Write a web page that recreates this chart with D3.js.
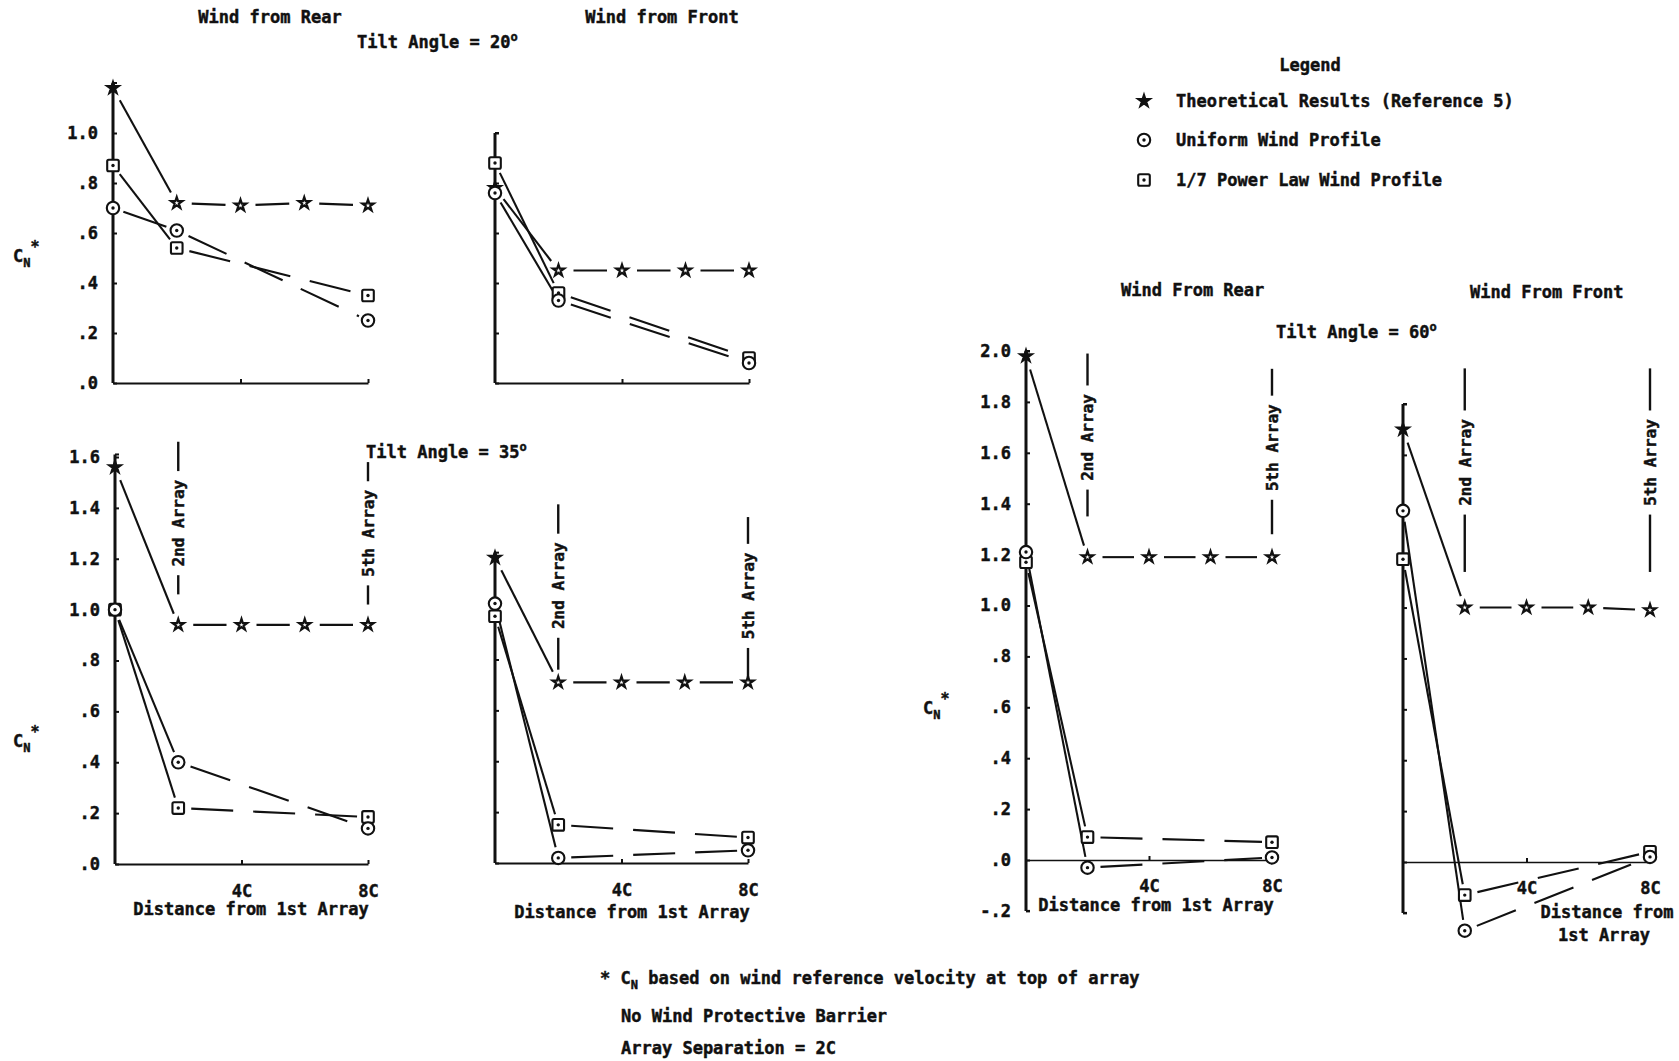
<!DOCTYPE html>
<html><head><meta charset="utf-8">
<script src="https://cdn.jsdelivr.net/npm/d3@7"></script>
<style>
html,body{margin:0;padding:0;background:#fff;}
svg{display:block;}
text{font-family:'DejaVu Sans Mono',monospace;font-weight:bold;fill:#111;stroke:#111;stroke-width:0.45px;}
</style></head>
<body>
<svg id="chart" width="1679" height="1061"></svg>
<script>
// ---------- DATA ----------
const theoryX = [0, 2, 4, 6, 8];      // distance from 1st array (in C)
const measuredX = [0, 2, 8];

const theo20Rear  = [1.18, 0.72, 0.71, 0.72, 0.71];
const unif20Rear  = [0.70, 0.61, 0.25];
const power20Rear = [0.87, 0.54, 0.35];

const theo20Front  = [0.78, 0.45, 0.45, 0.45, 0.45];
const unif20Front  = [0.76, 0.33, 0.08];
const power20Front = [0.88, 0.36, 0.10];

const theo35Rear  = [1.56, 0.94, 0.94, 0.94, 0.94];
const unif35Rear  = [1.00, 0.40, 0.14];
const power35Rear = [1.00, 0.22, 0.185];

const theo35Front  = [1.20, 0.71, 0.71, 0.71, 0.71];
const unif35Front  = [1.02, 0.02, 0.05];
const power35Front = [0.97, 0.15, 0.10];

const theo60Rear  = [1.98, 1.19, 1.19, 1.19, 1.19];
const unif60Rear  = [1.21, -0.03, 0.01];
const power60Rear = [1.17, 0.09, 0.07];

const theo60Front  = [1.70, 1.00, 1.00, 1.00, 0.99];
const unif60Front  = [1.38, -0.27, 0.02];
const power60Front = [1.19, -0.13, 0.04];

const ticks20  = [0, 0.2, 0.4, 0.6, 0.8, 1.0];
const ticks35  = [0, 0.2, 0.4, 0.6, 0.8, 1.0, 1.2, 1.4, 1.6];
const ticks35f = [0, 0.2, 0.4, 0.6, 0.8, 1.0, 1.2];
const ticks60  = [-0.2, 0, 0.2, 0.4, 0.6, 0.8, 1.0, 1.2, 1.4, 1.6, 1.8, 2.0];
const ticks60f = [-0.2, 0, 0.2, 0.4, 0.6, 0.8, 1.0, 1.2, 1.4, 1.6, 1.8];
const xTickVals = [4, 8];
const xTickLabels = ["4C", "8C"];

const legendLabels = ["Theoretical Results (Reference 5)", "Uniform Wind Profile", "1/7 Power Law Wind Profile"];
const notes = ["based on wind reference velocity at top of array", "No Wind Protective Barrier", "Array Separation = 2C"];

// ---------- LAYOUT ----------
const panels = [
  {x:[113,368], y:[383,133], dom:[0,1], axis:[0,1.2], ticks:ticks20, labels:true, xlab:false, xAxisAt0:false,
   theo:theo20Rear, unif:unif20Rear, pow:power20Rear, ann:null},
  {x:[495,749], y:[383,133], dom:[0,1], axis:[0,1.0], ticks:ticks20, labels:false, xlab:false, xAxisAt0:false,
   theo:theo20Front, unif:unif20Front, pow:power20Front, ann:null},
  {x:[115,368], y:[864,457], dom:[0,1.6], axis:[0,1.61], ticks:ticks35, labels:true, xlab:true, xAxisAt0:false,
   theo:theo35Rear, unif:unif35Rear, pow:power35Rear,
   ann:[[2,1.66,1.34,1.06,"2nd Array"],[8,1.58,1.30,1.02,"5th Array"]]},
  {x:[495,748], y:[863,456], dom:[0,1.6], axis:[0,1.22], ticks:ticks35f, labels:false, xlab:true, xAxisAt0:false,
   theo:theo35Front, unif:unif35Front, pow:power35Front,
   ann:[[2,1.41,1.09,0.76,"2nd Array"],[8,1.36,1.05,0.73,"5th Array"]]},
  {x:[1026,1272], y:[860,351], dom:[0,2], axis:[-0.2,2.0], ticks:ticks60, labels:true, xlab:true, xAxisAt0:true,
   theo:theo60Rear, unif:unif60Rear, pow:power60Rear,
   ann:[[2,1.99,1.66,1.35,"2nd Array"],[8,1.93,1.62,1.28,"5th Array"]]},
  {x:[1403,1650], y:[862,404], dom:[0,1.8], axis:[-0.2,1.8], ticks:ticks60f, labels:false, xlab:true, xAxisAt0:true,
   theo:theo60Front, unif:unif60Front, pow:power60Front,
   ann:[[2,1.94,1.57,1.14,"2nd Array"],[8,1.94,1.57,1.14,"5th Array"]]}
];

const svg = d3.select("#chart");
const FS = 17;

function fmt(v){
  if (Math.abs(v) < 1e-9) return ".0";
  if (v < 0) return "-." + Math.round(Math.abs(v)*10);
  if (v >= 1) return v.toFixed(1);
  return "." + Math.round(v*10);
}

function shorten(p, q, a, b){
  const dx = q[0]-p[0], dy = q[1]-p[1], L = Math.hypot(dx,dy);
  const ux = dx/L, uy = dy/L;
  return [[p[0]+ux*a, p[1]+uy*a],[q[0]-ux*b, q[1]-uy*b]];
}

function marker(g, type, cx, cy, filled){
  if (type === "star"){
    g.append("path").attr("d", d3.symbol(d3.symbolStar, 40)())
      .attr("transform", `translate(${cx},${cy})`)
      .attr("fill", filled ? "#111" : "#fff").attr("stroke","#111").attr("stroke-width",2.2);
  } else if (type === "circle"){
    g.append("circle").attr("cx",cx).attr("cy",cy).attr("r",6.2)
      .attr("fill","#fff").attr("stroke","#111").attr("stroke-width",2.1);
    g.append("circle").attr("cx",cx).attr("cy",cy).attr("r",1.7).attr("fill","#111");
  } else {
    g.append("rect").attr("x",cx-5.8).attr("y",cy-5.8).attr("width",11.6).attr("height",11.6).attr("rx",1.5)
      .attr("fill","#fff").attr("stroke","#111").attr("stroke-width",2.1);
    g.append("circle").attr("cx",cx).attr("cy",cy).attr("r",1.7).attr("fill","#111");
  }
}

panels.forEach(p => {
  const g = svg.append("g");
  const x = d3.scaleLinear().domain([0,8]).range(p.x);
  const y = d3.scaleLinear().domain(p.dom).range(p.y);

  // x axis line at 0
  const xa = g.append("g").attr("transform", `translate(0,${y(0)})`)
    .call(d3.axisBottom(x).tickValues(xTickVals).tickSizeInner(-4).tickSizeOuter(0).tickFormat(p.xlab ? (d,i)=>xTickLabels[i] : ""));
  xa.select(".domain").attr("stroke","#111").attr("stroke-width", p.xAxisAt0 ? 1.6 : 2.2);
  xa.selectAll(".tick line").attr("stroke","#111").attr("stroke-width",2);
  xa.selectAll(".tick text").attr("font-size",FS).attr("font-family","'DejaVu Sans Mono',monospace")
    .attr("font-weight","bold").attr("fill","#111").attr("y", p.xAxisAt0 ? 20 : 21).attr("dy","0.71em");

  // y axis
  const ya = g.append("g").attr("transform", `translate(${p.x[0]},0)`)
    .call(d3.axisLeft(y).tickValues(p.ticks).tickSizeInner(-4).tickSizeOuter(0).tickPadding(15)
      .tickFormat(p.labels ? fmt : ""));
  ya.select(".domain").attr("d", `M0,${y(p.axis[0])}V${y(p.axis[1])}`).attr("stroke","#111").attr("stroke-width",3);
  ya.selectAll(".tick line").attr("stroke","#111").attr("stroke-width",2);
  ya.selectAll(".tick text").attr("font-size",FS).attr("font-family","'DejaVu Sans Mono',monospace")
    .attr("font-weight","bold").attr("fill","#111");
  g.append("line").attr("x1",p.x[0]).attr("x2",p.x[0]+4).attr("y1",y(p.axis[1])).attr("y2",y(p.axis[1]))
    .attr("stroke","#111").attr("stroke-width",2);
  if (p.xAxisAt0) g.append("line").attr("x1",p.x[0]).attr("x2",p.x[0]+4).attr("y1",y(p.axis[0])).attr("y2",y(p.axis[0]))
    .attr("stroke","#111").attr("stroke-width",2);

  // annotations (2nd Array / 5th Array)
  if (p.ann) p.ann.forEach(a => {
    const ax = x(a[0]), yt = y(a[1]), yc = y(a[2]), yb = y(a[3]);
    const half = a[4].length * FS * 0.602 / 2 + 6;
    g.append("line").attr("x1",ax).attr("x2",ax).attr("y1",yt).attr("y2",yc-half).attr("stroke","#111").attr("stroke-width",2.4);
    g.append("line").attr("x1",ax).attr("x2",ax).attr("y1",yc+half).attr("y2",yb).attr("stroke","#111").attr("stroke-width",2.4);
    g.append("text").attr("transform",`translate(${ax},${yc}) rotate(-90)`).attr("text-anchor","middle")
      .attr("dy","0.36em").attr("font-size",FS-1).text(a[4]);
  });

  // lines
  const lineG = g.append("g").attr("stroke","#111").attr("stroke-width",2.1).attr("fill","none");
  const tp = theoryX.map((d,i)=>[x(d), y(p.theo[i])]);
  for (let i=0;i<tp.length-1;i++){
    const s = shorten(tp[i], tp[i+1], i===0?14:15, i===0?12:15);
    lineG.append("line").attr("x1",s[0][0]).attr("y1",s[0][1]).attr("x2",s[1][0]).attr("y2",s[1][1]);
  }
  [p.unif, p.pow].forEach(arr => {
    const pts = measuredX.map((d,i)=>[x(d), y(arr[i])]);
    const s0 = shorten(pts[0], pts[1], 11, 11);
    lineG.append("line").attr("x1",s0[0][0]).attr("y1",s0[0][1]).attr("x2",s0[1][0]).attr("y2",s0[1][1]);
    const s1 = shorten(pts[1], pts[2], 13, 10);
    lineG.append("line").attr("x1",s1[0][0]).attr("y1",s1[0][1]).attr("x2",s1[1][0]).attr("y2",s1[1][1])
      .attr("stroke-dasharray","42,20");
  });

  // markers
  theoryX.forEach((d,i)=>marker(g,"star",x(d),y(p.theo[i]), i===0));
  measuredX.forEach((d,i)=>marker(g,"square",x(d),y(p.pow[i])));
  measuredX.forEach((d,i)=>marker(g,"circle",x(d),y(p.unif[i])));
});

// ---------- TEXTS ----------
function txt(xp, yp, s, anchor){
  return svg.append("text").attr("x",xp).attr("y",yp).attr("font-size",FS).attr("text-anchor",anchor||"start").text(s);
}
function deg(t){ t.append("tspan").attr("font-size",12).attr("dy",-7).text("o"); }

txt(270, 23, "Wind from Rear", "middle");
txt(662, 23, "Wind from Front", "middle");
deg(txt(357, 48, "Tilt Angle = 20"));
deg(txt(366, 458, "Tilt Angle = 35"));
txt(1121, 296, "Wind From Rear");
txt(1470, 298, "Wind From Front");
deg(txt(1276, 338, "Tilt Angle = 60"));

txt(251, 915, "Distance from 1st Array", "middle");
txt(632, 918, "Distance from 1st Array", "middle");
txt(1156, 911, "Distance from 1st Array", "middle");
txt(1607, 918, "Distance from", "middle");
txt(1604, 941, "1st Array", "middle");

function cn(xp, yp){
  const t = svg.append("text").attr("x",xp).attr("y",yp).attr("font-size",FS).text("C");
  t.append("tspan").attr("font-size",12).attr("dy",5).text("N");
  t.append("tspan").attr("font-size",15).attr("dy",-15).text("*");
}
cn(13, 262);
cn(13, 747);
cn(923, 714);

txt(1310, 71, "Legend", "middle");
const lg = svg.append("g");
legendLabels.forEach((s,i)=>{
  const yy = [101,140,180][i];
  marker(lg, ["star","circle","square"][i], 1144, yy, true);
  txt(1176, yy+6, s);
});

const n1 = svg.append("text").attr("x",600).attr("y",984).attr("font-size",FS).text("* C");
n1.append("tspan").attr("font-size",12).attr("dy",5).text("N");
n1.append("tspan").attr("dy",-5).text(" " + notes[0]);
txt(621, 1022, notes[1]);
txt(621, 1054, notes[2]);
</script>
</body></html>
